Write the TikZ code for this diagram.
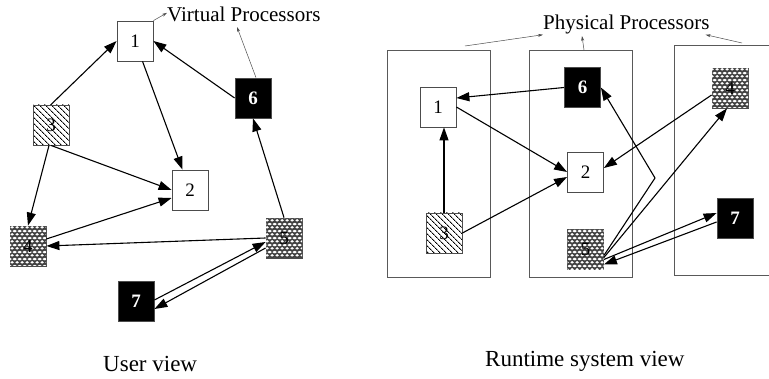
\documentclass[tikz,border=0pt]{standalone}
\usepackage{fontspec}
\setmainfont{Liberation Serif}
\usetikzlibrary{arrows.meta, patterns, patterns.meta, positioning}

% fishnet fill for the meshed processes
\pgfdeclarepatternformonly{mesh}{\pgfpoint{0pt}{0pt}}{\pgfpoint{5pt}{7.2pt}}{\pgfpoint{5pt}{7.2pt}}{
  \pgfpathellipse{\pgfpoint{2.5pt}{1.8pt}}{\pgfpoint{2.1pt}{0pt}}{\pgfpoint{0pt}{1.45pt}}
  \pgfpathellipse{\pgfpoint{0pt}{5.4pt}}{\pgfpoint{2.1pt}{0pt}}{\pgfpoint{0pt}{1.45pt}}
  \pgfpathellipse{\pgfpoint{5pt}{5.4pt}}{\pgfpoint{2.1pt}{0pt}}{\pgfpoint{0pt}{1.45pt}}
  \pgfusepath{fill}
}

\begin{document}
\begin{tikzpicture}[x=1pt, y=-1pt,
  proc/.style={draw=black!70, line width=0.8pt, minimum width=36pt, minimum height=40pt,
    inner sep=0pt, font=\fontsize{19}{19}\selectfont},
  plain/.style={proc, fill=white},
  dark/.style={proc, fill=black, text=white, font=\fontsize{19}{19}\selectfont\bfseries},
  hatched/.style={proc, pattern={Lines[angle=-45, distance=4pt, line width=0.9pt]}},
  meshed/.style={proc, fill=black!75, postaction={pattern=mesh, pattern color=white}},
  cpu/.style={draw=black!65, line width=1pt, minimum width=103pt, minimum height=227pt, inner sep=0pt},
  conn/.style={line width=1.1pt, -{Triangle[length=13pt, width=9pt]}},
  ptr/.style={draw=black!70, line width=0.5pt, -{Stealth[length=5pt, width=3pt]}},
  title/.style={font=\fontsize{21}{21}\selectfont, inner sep=0pt},
  caption/.style={font=\fontsize{23}{23}\selectfont, inner sep=0pt}]
  \useasboundingbox (0,0) rectangle (769,379);

  % ---- user view ----
  \node[plain]   (l1) at (135,41)  {1};
  \node[plain]   (l2) at (190,190) {2};
  \node[hatched] (l3) at (51,125)  {3};
  \node[meshed]  (l4) at (28,246)  {4};
  \node[meshed]  (l5) at (284,238) {5};
  \node[dark]    (l6) at (253,98)  {6};
  \node[dark]    (l7) at (136,301) {7};

  \draw[conn] (l3.north) -- (l1.west);
  \draw[conn] (l1) -- (l2);
  \draw[conn] (l6.west) -- (l1.east);
  \draw[conn] (l3.south) -- (l2.west);
  \draw[conn] ([xshift=-2pt]l3.south) -- (l4.north);
  \draw[conn] ([yshift=7pt]l4.east) -- ([yshift=-8pt]l2.west);
  \draw[conn] (l5.west) -- (l4.east);
  \draw[conn] (l5.north) -- (l6.south);
  \draw[conn] ([yshift=1pt]l7.east) -- ([yshift=-4pt]l5.west);
  \draw[conn] ([yshift=-10pt]l5.west) -- ([yshift=-8pt]l7.east);

  \node[title, anchor=base west] (virt) at (167,22) {Virtual Processors};
  \draw[ptr] (l1.north east) -- ([yshift=2pt]virt.west);
  \coordinate (vtip) at (237,27);
  \draw[ptr] ([xshift=3pt]l6.north) -- (vtip);

  % ---- runtime system view ----
  \node[cpu] (pA) at (439,164.5) {};
  \node[cpu] (pB) at (580.5,164.5) {};
  \node[cpu, minimum width=101pt, minimum height=230pt] (pC) at (724.5,161) {};

  \node[plain]   (r1) at (438,107) {1};
  \node[plain]   (r2) at (585.5,172) {2};
  \node[hatched] (r3) at (444,233) {3};
  \node[meshed]  (r4) at (730,88)  {4};
  \node[meshed]  (r5) at (585.5,249.5) {5};
  \node[dark]    (r6) at (582.5,87.5) {6};
  \node[dark]    (r7) at (735,218) {7};

  \draw[conn] (r6.west) -- ([yshift=9pt]r1.east);
  \draw[conn] (r1.east) -- (r2.west);
  \draw[conn] (r3.north) -- (r3.north |- r1.south);
  \draw[conn] (r3.east) -- ([yshift=-5pt]r2.west);
  \draw[conn] ([yshift=-7pt]r4.west) -- ([yshift=4pt]r2.east);
  \coordinate (bend) at (655,178);
  \draw[conn] ([yshift=-6pt]r5.east) -- (bend) -- (r6.east);
  \draw[conn] ([yshift=-8pt]r5.east) -- ([xshift=-3pt]r4.south);
  \draw[conn] ([yshift=-10pt]r5.east) -- ([yshift=5pt]r7.west);
  \draw[conn] ([yshift=-4pt]r7.west) -- ([yshift=-15pt]r5.east);

  \node[title, anchor=base west] (phys) at (543,30) {Physical Processors};
  \coordinate (pa) at (465,46);
  \coordinate (pb) at (584,50);
  \coordinate (pc) at (742,43);
  \draw[ptr] (pa) -- (phys.south west);
  \draw[ptr] (pb) -- (582,36);
  \draw[ptr] (pc) -- ([xshift=-4pt]phys.south east);

  % ---- captions ----
  \node[caption, anchor=base west] (uv) at (103,372) {User view};
  \node[caption, anchor=base west] (rv) at (485,367) {Runtime system view};
\end{tikzpicture}
\end{document}
